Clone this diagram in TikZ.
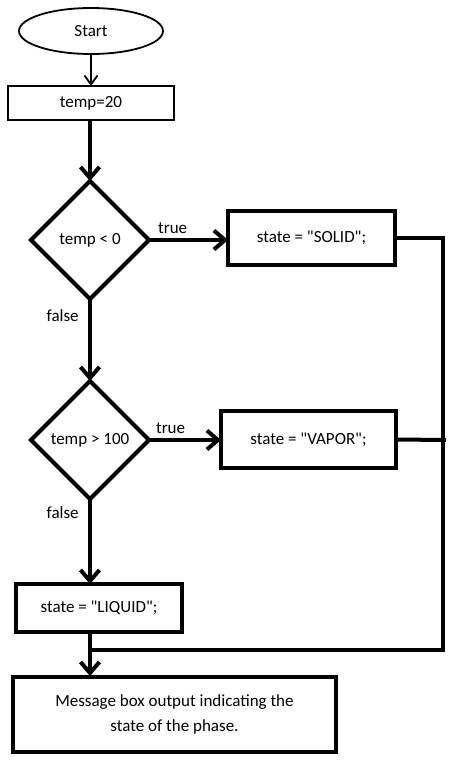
\documentclass[tikz,border=0pt]{standalone}
\usepackage{fontspec}
\setmainfont{Carlito}[Ligatures=TeXOff]
\usetikzlibrary{arrows.meta,shapes.geometric,positioning}

\begin{document}
\begin{tikzpicture}[x=1pt,y=-1pt,font=\fontsize{17}{25}\selectfont,
  thinbox/.style={draw,line width=1.8pt,inner sep=0pt,outer sep=0pt},
  thickbox/.style={draw,line width=4pt,inner sep=0pt,outer sep=0pt},
  decision/.style={thickbox,diamond,minimum width=118pt,minimum height=118pt},
  thinarrow/.style={line width=1.8pt,-{Straight Barb[length=9pt,width=13pt]}},
  thickarrow/.style={line width=4pt,-{Straight Barb[length=11pt,width=19pt]}},
  flow/.style={line width=4pt}]
\useasboundingbox (0,0) rectangle (474,779);
\node[thinbox,ellipse,minimum width=144pt,minimum height=46pt] (start) at (91,31) {Start};
\node[thinbox,minimum width=166pt,minimum height=34pt] (init) at (91,103) {temp=20};
\node[decision] (below) at (90,240) {temp < 0};
\node[thickbox,minimum width=167pt,minimum height=54pt] (solid) at (311.5,238) {state = "SOLID";};
\node[decision] (above) at (90,440) {temp > 100};
\node[thickbox,minimum width=175pt,minimum height=57pt] (vapor) at (308.5,439.5) {state = "VAPOR";};
\node[thickbox,minimum width=166pt,minimum height=48pt] (liquid) at (99,608) {state = "LIQUID";};
\node[thickbox,minimum width=323pt,minimum height=75pt,align=center] (output) at (174.5,714.5)
  {Message box output indicating the\\state of the phase.};
\coordinate (railtop) at (443,238);
\coordinate (railmid) at (443,440);
\coordinate (railend) at (443,650);
\coordinate (join) at (90,650);
\coordinate (liqout) at (90,634);
\coordinate (msgin) at (90,676);
\draw [thinarrow] (start) -- (init);
\draw [thickarrow] (init.south -| below.north) -- (below.north);
\draw [thickarrow] (below.east) -- node[pos=0.3,above=1pt] (true1) {true} (below.east -| solid.west);
\draw [thickarrow] (below.south) -- node[pos=0.2,left=6pt] (false1) {false} (above.north);
\draw [thickarrow] (above.east) -- node[pos=0.3,above=1pt] (true2) {true} (above.east -| vapor.west);
\draw [thickarrow] (above.south) -- node[pos=0.16,left=6pt] (false2) {false} (above.south |- liquid.north);
\draw [flow] (solid.east) -- (railtop) -- (railend) -- (join);
\draw [flow] (vapor.east) -- ([xshift=3pt]railmid);
\draw [thickarrow] (liqout) -- (msgin);
\end{tikzpicture}
\end{document}
